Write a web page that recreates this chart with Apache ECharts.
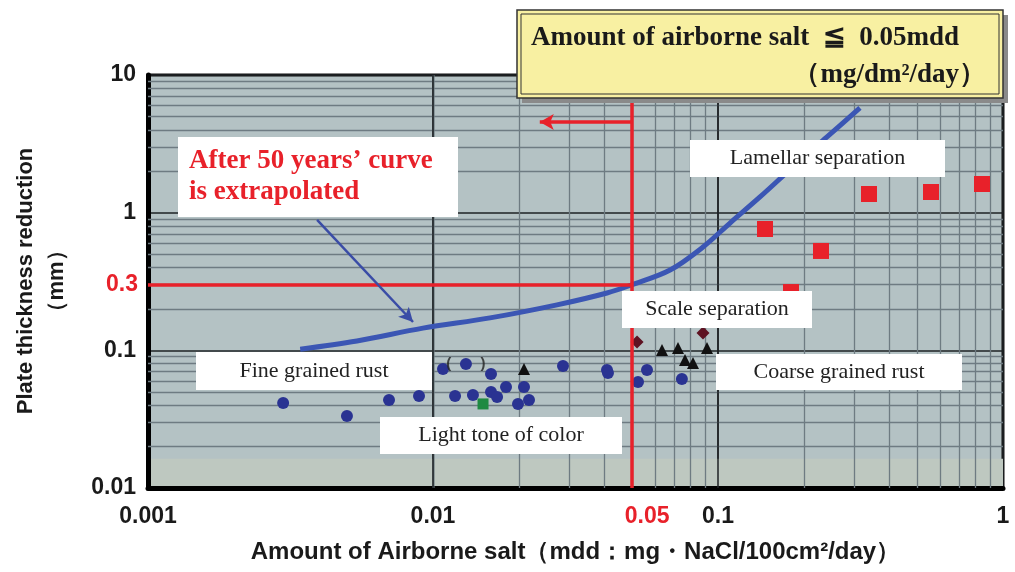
<!DOCTYPE html>
<html>
<head>
<meta charset="utf-8">
<script src="https://cdn.jsdelivr.net/npm/echarts@6/dist/echarts.min.js"></script>
<style>html,body{margin:0;padding:0;background:#fff;}#c{width:1015px;height:572px;}</style>
</head>
<body>
<div id="c"></div>
<script>
// ---- data ----
const xTickLabels = ['0.001', '0.01', '0.1', '1'];
const yTickLabels = ['0.01', '0.1', '1', '10'];
const curveX = [0.00342, 0.00541, 0.00922, 0.01585, 0.02724, 0.04078, 0.0500, 0.0679, 0.0886, 0.1102, 0.1404, 0.1833, 0.2413, 0.3148];
const curveY = [0.102, 0.117, 0.145, 0.172, 0.214, 0.261, 0.300, 0.383, 0.563, 0.841, 1.30, 2.15, 3.55, 5.76];
const blueX = [0.00298, 0.00499, 0.00701, 0.00893, 0.01084, 0.01305, 0.01598, 0.01195, 0.01381, 0.01598, 0.01678, 0.01804, 0.01987, 0.02086, 0.02172, 0.02858, 0.04078, 0.04111, 0.05634, 0.0524, 0.0747];
const blueY = [0.0414, 0.0333, 0.0436, 0.0466, 0.0732, 0.0796, 0.0673, 0.0466, 0.0474, 0.0498, 0.0458, 0.0542, 0.0408, 0.0542, 0.0436, 0.0770, 0.0720, 0.0684, 0.0720, 0.0589, 0.0619];
const bracketIndex = [5];
const greenX = [0.01498];
const greenY = [0.0408];
const triX = [0.02086, 0.0636, 0.0724, 0.0915, 0.0766, 0.0817];
const triY = [0.0732, 0.1006, 0.104, 0.104, 0.0851, 0.0809];
const diaX = [0.0520, 0.0886];
const diaY = [0.1149, 0.1336];
const redX = [0.1462, 0.2298, 0.3387, 0.5589, 0.8439, 0.1804];
const redY = [0.761, 0.527, 1.366, 1.413, 1.615, 0.265];
const limitX = 0.05;
const limitY = 0.3;
const arrowY = 4.56;
const arrowEndX = 0.0237;
const pointerStart = [0.00392, 0.885];
const pointerEnd = [0.00851, 0.1606];
const gridMultiples = [2, 3, 4, 5, 6, 7, 8, 9];
const xDecades = [0.001, 0.01, 0.1];
const yDecades = [0.01, 0.1, 1];
const lowBand = [0.01, 0.0163];

const pair = (xs, ys) => xs.map((x, i) => [x, ys[i]]);
const xMinor = xDecades.flatMap(d => gridMultiples.map(m => m * d));
const yMinor = yDecades.flatMap(d => gridMultiples.map(m => m * d));
const xMajor = [0.01, 0.1];

const RED = '#e8212a';
const sansBold = "'Liberation Sans', Arial, sans-serif";
const serif = "'Liberation Serif', 'Times New Roman', serif";

const chart = echarts.init(document.getElementById('c'), null, {renderer: 'canvas'});

function box(x, y, w, h, text, opts) {
  opts = opts || {};
  return [{
    type: 'rect', z: 100, shape: {x: x, y: y, width: w, height: h},
    style: {fill: '#ffffff', stroke: null}
  }, {
    type: 'text', z: 101, x: opts.tx != null ? opts.tx : x + w / 2, y: opts.ty != null ? opts.ty : y + h / 2,
    style: {
      text: text, fill: opts.color || '#222', font: opts.font || ('22px ' + serif),
      textAlign: opts.align || 'center', textVerticalAlign: 'middle', lineHeight: opts.lh || 24
    }
  }];
}

const graphics = [].concat(
  box(178, 137, 280, 80, 'After 50 years\u2019 curve\nis extrapolated', {font: 'bold 27px ' + serif, color: RED, align: 'left', tx: 189, ty: 177, lh: 31}),
  box(690, 140, 255, 37, 'Lamellar separation'),
  box(622, 291, 190, 37, 'Scale separation'),
  box(196, 352, 236, 38, 'Fine grained rust'),
  box(716, 354, 246, 36, 'Coarse grained rust'),
  box(380, 417, 242, 37, 'Light tone of color'),
  [
    {type: 'rect', z: 100, shape: {x: 522, y: 15, width: 486, height: 88}, style: {fill: '#8a8a8a'}},
    {type: 'rect', z: 101, shape: {x: 517, y: 10, width: 486, height: 88}, style: {fill: '#f8f0a2', stroke: '#333', lineWidth: 1.5}},
    {type: 'rect', z: 102, shape: {x: 521, y: 14, width: 478, height: 80}, style: {fill: null, stroke: '#333', lineWidth: 1}},
    {type: 'text', z: 103, x: 531, y: 38, style: {text: 'Amount of airborne salt  \u2266  0.05mdd', font: 'bold 27px ' + serif, fill: '#1a1a1a', textVerticalAlign: 'middle'}},
    {type: 'text', z: 103, x: 986, y: 75, style: {text: '\uff08mg/dm\u00b2/day\uff09', font: 'bold 27px ' + serif, fill: '#1a1a1a', textAlign: 'right', textVerticalAlign: 'middle'}},
    {type: 'text', z: 103, x: 26, y: 281, rotation: Math.PI / 2, style: {text: 'Plate thickness reduction', font: 'bold 22px ' + sansBold, fill: '#1a1a1a', textAlign: 'center', textVerticalAlign: 'middle'}},
    {type: 'text', z: 103, x: 57, y: 281, rotation: Math.PI / 2, style: {text: '\uff08mm\uff09', font: 'bold 22px ' + sansBold, fill: '#1a1a1a', textAlign: 'center', textVerticalAlign: 'middle'}}
  ]
);

const option = {
  animation: false,
  grid: {left: 148, right: 12, top: 75, bottom: 84, show: true, backgroundColor: '#b4c2c4', borderColor: '#111', borderWidth: 3},
  xAxis: {
    type: 'log', logBase: 10, min: 0.001, max: 1,
    axisLine: {show: true, onZero: false, lineStyle: {color: '#000', width: 5}},
    axisTick: {show: false},
    splitLine: {show: true, lineStyle: {color: '#1e2224', width: 1.5}},
    axisLabel: {
      formatter: (v, i) => xTickLabels[i], fontSize: 23, fontWeight: 'bold', color: '#1a1a1a',
      fontFamily: sansBold, margin: 17
    },
    name: 'Amount of Airborne salt\uff08mdd\uff1amg\u30fbNaCl/100cm\u00b2/day\uff09',
    nameLocation: 'middle', nameGap: 52,
    nameTextStyle: {fontSize: 24, fontWeight: 'bold', color: '#1a1a1a', fontFamily: sansBold}
  },
  yAxis: {
    type: 'log', logBase: 10, min: 0.01, max: 10,
    axisLine: {show: true, onZero: false, lineStyle: {color: '#000', width: 5}},
    axisTick: {show: false},
    splitLine: {show: true, lineStyle: {color: '#1e2224', width: 1.5}},
    axisLabel: {
      formatter: (v, i) => yTickLabels[i], fontSize: 23, fontWeight: 'bold', color: '#1a1a1a',
      fontFamily: sansBold, margin: 12
    }
  },
  series: [
    {
      type: 'scatter', data: [], z: 1, silent: true,
      markArea: {
        silent: true, z: 0, itemStyle: {color: '#bec8c0'},
        data: [[{yAxis: lowBand[0]}, {yAxis: lowBand[1]}]]
      }
    },
    {
      type: 'scatter', data: [], z: 2, silent: true,
      markLine: {
        silent: true, z: 3, symbol: ['none', 'none'], label: {show: false}, animation: false,
        lineStyle: {color: '#6e7b82', width: 1.3, type: 'solid'},
        data: xMinor.map(v => ({xAxis: v})).concat(yMinor.map(v => ({yAxis: v})))
          .concat(xMajor.map(v => ({xAxis: v, lineStyle: {color: '#1e2224', width: 1.5}})))
      }
    },
    {
      type: 'line', data: pair(curveX, curveY), smooth: 0.35, symbol: 'none', z: 5,
      lineStyle: {color: '#3b56b4', width: 5}
    },
    {
      type: 'scatter', data: pair(blueX, blueY), symbol: 'circle', symbolSize: 12, z: 6,
      itemStyle: {color: '#2a3392', opacity: 1}
    },
    {
      type: 'scatter', data: bracketIndex.map(i => [blueX[i], blueY[i]]), symbolSize: 1, z: 7,
      itemStyle: {color: 'transparent'},
      label: {show: true, position: 'inside', formatter: '(       )', fontSize: 15, fontWeight: 'bold', color: '#222'}
    },
    {
      type: 'scatter', data: pair(greenX, greenY), symbol: 'rect', symbolSize: 11, z: 6,
      itemStyle: {color: '#1f8a42', opacity: 1}
    },
    {
      type: 'scatter', data: pair(triX, triY), symbol: 'triangle', symbolSize: 12, z: 6,
      itemStyle: {color: '#111', opacity: 1}
    },
    {
      type: 'scatter', data: pair(diaX, diaY), symbol: 'diamond', symbolSize: 13, z: 6,
      itemStyle: {color: '#5e1222', opacity: 1}
    },
    {
      type: 'scatter', data: pair(redX, redY), symbol: 'rect', symbolSize: 16, z: 6,
      itemStyle: {color: RED, opacity: 1}
    },
    {
      type: 'scatter', data: [], z: 8, silent: true,
      markLine: {
        silent: true, z: 8, symbol: ['none', 'none'], animation: false,
        lineStyle: {color: RED, width: 3.5, type: 'solid'},
        label: {show: false},
        data: [
          [{coord: [0.001, limitY], label: {show: true, position: 'start', formatter: '0.3', color: RED, fontSize: 23, fontWeight: 'bold', fontFamily: sansBold, distance: 10}},
           {coord: [limitX, limitY]}],
          [{coord: [limitX, 0.01], label: {show: true, position: 'start', formatter: '0.05', color: RED, fontSize: 23, fontWeight: 'bold', fontFamily: sansBold, distance: 17, padding: [0, 0, 0, 30]}},
           {coord: [limitX, 10]}],
          [{coord: [limitX, arrowY], symbol: 'none'}, {coord: [arrowEndX, arrowY], symbol: 'arrow', symbolSize: [12, 14]}]
        ]
      }
    },
    {
      type: 'scatter', data: [], z: 8, silent: true,
      markLine: {
        silent: true, z: 8, symbol: ['none', 'arrow'], symbolSize: [11, 14], animation: false,
        lineStyle: {color: '#3a4ca6', width: 2.5, type: 'solid'},
        label: {show: false},
        data: [[{coord: pointerStart}, {coord: pointerEnd}]]
      }
    }
  ],
  graphic: graphics
};
chart.setOption(option);
</script>
</body>
</html>
